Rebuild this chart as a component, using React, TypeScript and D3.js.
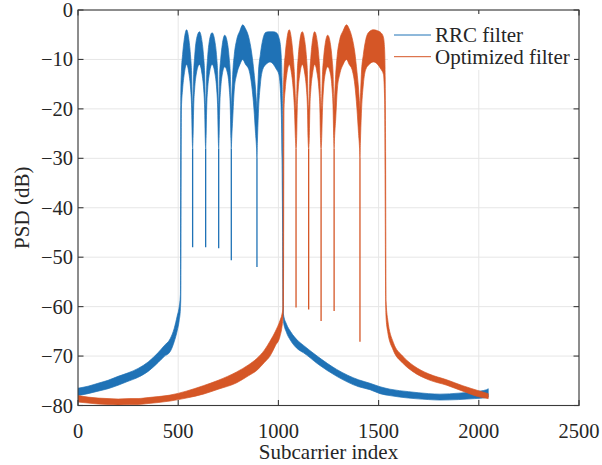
import * as d3 from "d3";

const W = 602;
const H = 465;
const MARGIN = { top: 10, right: 23, bottom: 59.5, left: 78 };

const X_TICKS = [0, 500, 1000, 1500, 2000, 2500];
const Y_TICKS = [-80, -70, -60, -50, -40, -30, -20, -10, 0];

const SERIES_NAMES = ["RRC filter", "Optimized filter"];
const SERIES_COLORS = ["#1f72b6", "#d55626"];

// [subcarrier, upper dB, lower dB] of the noisy PSD band
const rrcBand: [number, number, number][] = [
  [0, -76.5, -78.0], [50, -76.1, -77.6], [100, -75.5, -77.1], [150, -74.9, -76.6],
  [200, -74.1, -75.9], [250, -73.4, -75.1], [300, -72.5, -74.3], [350, -71.2, -73.1],
  [400, -69.3, -71.3], [430, -67.9, -70.1], [460, -66.5, -69.1], [480, -64.4, -67.1],
  [495, -61.9, -64.9], [505, -60.0, -62.8], [511, -57.5, -60.5],
  // lobe 1
  [513, -17, -58], [516, -12.5, -20], [522, -9, -16], [530, -6, -13], [542, -4.0, -11],
  [554, -6.2, -13], [562, -9.5, -16], [567, -13, -20], [570, -18, -26], [572, -20, -28], [574, -18, -26],
  // lobe 2
  [577, -13, -20], [582, -9.5, -16], [590, -6.2, -13], [606, -4.4, -11], [619, -6.4, -13],
  [627, -9.5, -16], [632, -13, -20], [635, -18, -26], [637, -20, -28], [639, -18, -26],
  // lobe 3
  [642, -13, -20], [647, -9.5, -16], [655, -6.4, -13], [669, -4.6, -11], [684, -6.6, -13],
  [692, -9.5, -16], [697, -13, -20], [700, -18, -26], [702, -20, -28], [704, -18, -26],
  // lobe 4
  [707, -13, -20], [712, -10, -16], [720, -7, -13], [732, -5.1, -11.5], [747, -7, -13],
  [755, -10, -16], [760, -13, -20], [763, -18, -26], [765, -20, -28], [767, -18, -26],
  // lobe 5
  [772, -13, -22], [780, -9, -16], [792, -6, -13], [808, -4.2, -11], [822, -3.0, -10],
  [836, -3.8, -11], [852, -5.5, -12], [866, -8.5, -15], [878, -12.5, -20], [886, -16, -25],
  [891, -19, -28], [893, -20, -30], [895, -18, -27],
  // lobe 6
  [900, -13, -21], [910, -9, -15], [922, -6, -12], [938, -4.5, -11], [958, -4.4, -10.5],
  [975, -4.4, -11], [990, -4.6, -12], [1002, -5.5, -13], [1012, -8, -18], [1018, -14, -30],
  [1021, -22, -45], [1023, -35, -60],
  // upper stopband
  [1025, -61.5, -63], [1040, -63.5, -65.2], [1060, -65.0, -66.8], [1100, -67.0, -68.7],
  [1124, -67.8, -69.3], [1200, -70.2, -71.7], [1291, -72.7, -74.1], [1400, -74.8, -76.2],
  [1457, -75.5, -76.8], [1507, -76.2, -77.6], [1557, -76.7, -78.0], [1650, -77.2, -78.5],
  [1750, -77.6, -78.8], [1806, -77.7, -78.9], [1900, -77.5, -78.8], [1980, -77.2, -78.6],
  [2039, -76.8, -78.4], [2047, -76.6, -78.3],
];

const optBand: [number, number, number][] = [
  [0, -78.0, -79.3], [50, -78.3, -79.5], [100, -78.5, -79.7], [150, -78.6, -79.8],
  [200, -78.7, -79.9], [259, -78.6, -79.8], [300, -78.6, -79.8], [350, -78.4, -79.6],
  [400, -78.2, -79.4], [459, -77.9, -79.1], [540, -77.1, -78.5], [625, -76.0, -77.7],
  [700, -74.9, -76.7], [792, -73.2, -75.4], [850, -71.8, -74.0], [892, -70.5, -72.9],
  [930, -68.8, -71.3], [958, -67.0, -70.0], [985, -65.0, -67.9], [1008, -62.8, -66.0],
  [1018, -61.5, -64.0], [1022, -60.5, -62.5],
  // lobe 1
  [1025, -17, -60], [1028, -12.5, -20], [1034, -9, -16], [1042, -6, -13], [1054, -4.0, -11],
  [1066, -6.2, -13], [1074, -9.5, -16], [1080, -13, -20], [1085, -18, -26], [1088, -20, -28], [1091, -18, -26],
  // lobe 2
  [1094, -13, -20], [1099, -9.5, -16], [1107, -6.2, -13], [1119, -4.4, -11], [1132, -6.4, -13],
  [1140, -9.5, -16], [1145, -13, -20], [1148, -18, -26], [1151, -20, -28], [1154, -18, -26],
  // lobe 3
  [1157, -13, -20], [1162, -9.5, -16], [1170, -6.2, -13], [1181, -4.4, -11], [1194, -6.4, -13],
  [1202, -9.5, -16], [1207, -13, -20], [1210, -18, -26], [1213, -20, -28], [1216, -18, -26],
  // lobe 4
  [1220, -13, -20], [1225, -10, -16], [1233, -7, -13], [1246, -5.1, -11.5], [1260, -7, -13],
  [1268, -10, -16], [1273, -13, -20], [1276, -18, -26], [1278, -20, -28], [1280, -18, -26],
  // lobe 5
  [1286, -13, -22], [1294, -9, -16], [1306, -6, -13], [1323, -4.2, -11], [1340, -3.0, -10],
  [1353, -3.8, -11], [1367, -5.5, -12], [1381, -8.5, -15], [1392, -12.5, -20], [1400, -16, -25],
  [1405, -19, -28], [1407, -20, -30], [1409, -18, -27],
  // lobe 6
  [1414, -13, -21], [1424, -9, -15], [1436, -6, -12], [1453, -4.4, -11], [1475, -4.0, -10.5],
  [1495, -4.2, -11], [1512, -4.6, -12], [1524, -5.5, -13], [1530, -8, -18], [1533, -14, -40],
  [1535, -30, -58],
  // upper stopband
  [1537, -58.7, -62.0], [1545, -62.5, -65.0], [1573, -67.2, -68.8], [1620, -70.0, -71.4],
  [1673, -71.9, -73.2], [1750, -73.6, -74.8], [1840, -74.8, -75.9], [1920, -76.0, -77.1],
  [2006, -77.1, -78.3], [2047, -77.6, -78.6],
];

// deep nulls between the passband lobes
const rrcNullX = [572, 637, 702, 765, 893];
const rrcNullDb = [-48, -48, -48.2, -50.6, -52];
const optNullX = [1088, 1151, 1213, 1278, 1407];
const optNullDb = [-60.2, -60.6, -62.9, -60.9, -67.1];

const FONT = "'Liberation Serif', 'Times New Roman', serif";
const TEXT = "#262626";

export default function App() {
  const x = d3.scaleLinear().domain([0, 2500]).range([MARGIN.left, W - MARGIN.right]);
  const y = d3.scaleLinear().domain([-80, 0]).range([H - MARGIN.bottom, MARGIN.top]);
  const [x0, x1] = x.range();
  const [yb, yt] = y.range();

  const area = d3
    .area<[number, number, number]>()
    .x((d) => x(d[0]))
    .y0((d) => y(d[2]))
    .y1((d) => y(d[1]))
    .curve(d3.curveMonotoneX);

  const series = [
    { band: rrcBand, nx: rrcNullX, nd: rrcNullDb },
    { band: optBand, nx: optNullX, nd: optNullDb },
  ];

  const tick = 5.5;

  return (
    <svg
      width={W}
      height={H}
      style={{ position: "absolute", left: 0, top: 0, background: "#fff" }}
      fontFamily={FONT}
    >
      {/* grid */}
      <g stroke="#e6e6e6" strokeWidth={1}>
        {X_TICKS.map((t) => (
          <line key={"gx" + t} x1={x(t)} x2={x(t)} y1={yt} y2={yb} />
        ))}
        {Y_TICKS.map((t) => (
          <line key={"gy" + t} x1={x0} x2={x1} y1={y(t)} y2={y(t)} />
        ))}
      </g>

      <defs>
        <clipPath id="plot">
          <rect x={x0} y={yt} width={x1 - x0} height={yb - yt} />
        </clipPath>
      </defs>

      <g clipPath="url(#plot)">
        {series.map((s, i) => (
          <g key={i}>
            <path
              d={area(s.band) || ""}
              fill={SERIES_COLORS[i]}
              stroke={SERIES_COLORS[i]}
              strokeWidth={0.7}
            />
            {s.nx.map((nx, j) => {
              const b = s.band.find((d) => d[0] === nx);
              return (
                <line
                  key={j}
                  x1={x(nx)}
                  x2={x(nx)}
                  y1={y(b ? b[2] : -20)}
                  y2={y(s.nd[j])}
                  stroke={SERIES_COLORS[i]}
                  strokeWidth={1.3}
                />
              );
            })}
          </g>
        ))}
      </g>

      {/* axes box and ticks */}
      <g stroke="#3a3a3a" strokeWidth={1.1} fill="none">
        <rect x={x0} y={yt} width={x1 - x0} height={yb - yt} />
        {X_TICKS.map((t) => (
          <g key={"tx" + t}>
            <line x1={x(t)} x2={x(t)} y1={yb} y2={yb - tick} />
            <line x1={x(t)} x2={x(t)} y1={yt} y2={yt + tick} />
          </g>
        ))}
        {Y_TICKS.map((t) => (
          <g key={"ty" + t}>
            <line x1={x0} x2={x0 + tick} y1={y(t)} y2={y(t)} />
            <line x1={x1} x2={x1 - tick} y1={y(t)} y2={y(t)} />
          </g>
        ))}
      </g>

      <g fontSize={20.5} fill={TEXT}>
        {X_TICKS.map((t) => (
          <text key={"lx" + t} x={x(t)} y={yb + 32} textAnchor="middle">
            {t}
          </text>
        ))}
        {Y_TICKS.map((t) => (
          <text key={"ly" + t} x={x0 - 5} y={y(t) + 7} textAnchor="end">
            {t < 0 ? "\u2212" + Math.abs(t) : t}
          </text>
        ))}
      </g>

      <text x={(x0 + x1) / 2} y={H - 6} textAnchor="middle" fontSize={21} fill={TEXT}>
        Subcarrier index
      </text>
      <text
        transform={`translate(29,${(yt + yb) / 2}) rotate(-90)`}
        textAnchor="middle"
        fontSize={21}
        fill={TEXT}
      >
        PSD (dB)
      </text>

      {/* legend */}
      <g>
        <rect x={388} y={14} width={186} height={56} fill="#fff" />
        {SERIES_NAMES.map((name, i) => (
          <g key={name}>
            <line
              x1={394}
              x2={431}
              y1={35 + i * 21.7}
              y2={35 + i * 21.7}
              stroke={SERIES_COLORS[i]}
              strokeWidth={1}
            />
            <text x={435} y={42 + i * 21.7} fontSize={21} fill={TEXT}>
              {name}
            </text>
          </g>
        ))}
      </g>
    </svg>
  );
}
